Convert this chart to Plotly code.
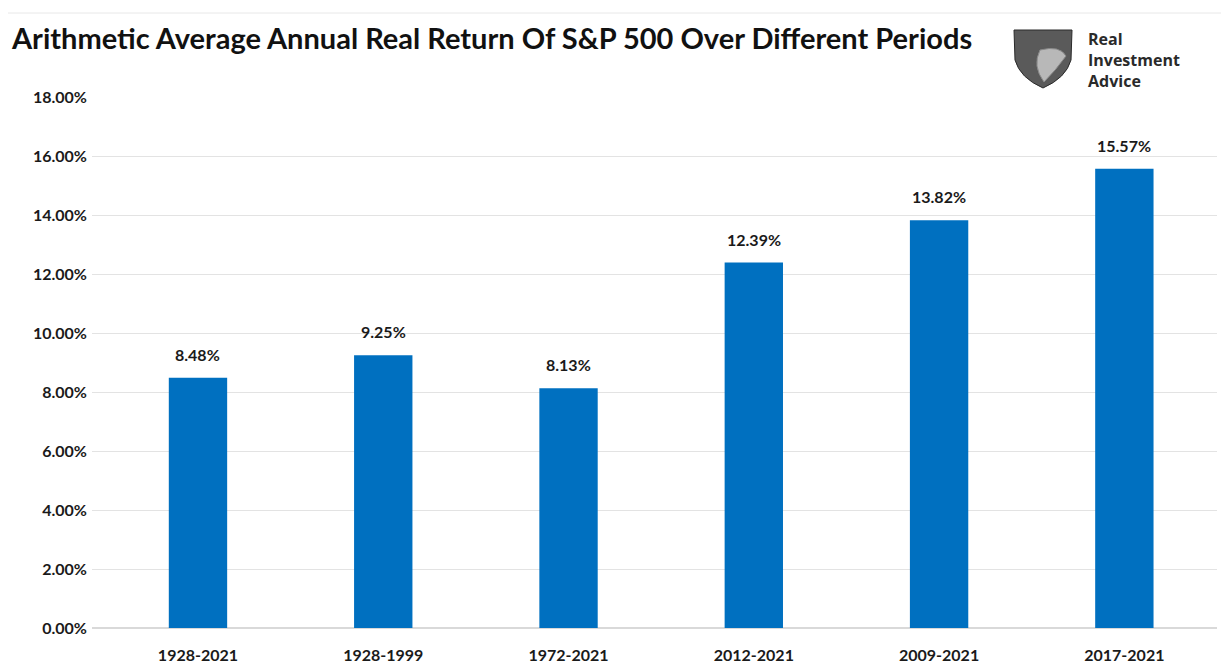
import plotly.graph_objects as go

periods = ["1928-2021", "1928-1999", "1972-2021", "2012-2021", "2009-2021", "2017-2021"]
returns = [8.48, 9.25, 8.13, 12.39, 13.82, 15.57]
y_ticks = [0, 2, 4, 6, 8, 10, 12, 14, 16, 18]
logo_lines = ["Real", "Investment", "Advice"]

OFF = 8  # page body margin
W, H = 1229 - OFF, 672 - OFF
L, R, T, B = 92 - OFF, 12, 97 - OFF, 44
pw = W - L - R
ph = H - T - B

def px(x):
    return (x - OFF - L) / pw

def py(y):
    return (H - B - (y - OFF)) / ph

FONT = "Lato, 'Open Sans', sans-serif"
xs = list(range(len(periods)))

fig = go.Figure(go.Bar(
    x=xs,
    y=returns,
    marker=dict(color="#0070C0", line=dict(width=0)),
    width=0.315,
))

annotations = [
    dict(x=x, y=v, xref="x", yref="y", text=f"{v:.2f}%", showarrow=False,
         yanchor="bottom", yshift=12,
         font=dict(family=FONT, size=16, color="#1a1a1a", weight="bold"))
    for x, v in zip(xs, returns)
]
annotations.append(
    dict(text="Arithmetic Average Annual Real Return Of S&P 500 Over Different Periods",
         xref="paper", yref="paper", x=px(9), y=py(38), xanchor="left", yanchor="middle",
         showarrow=False, font=dict(family=FONT, size=29, color="#111111", weight="bold")))
annotations.append(
    dict(text="<br>".join(logo_lines), xref="paper", yref="paper", x=px(1086), y=py(60),
         xanchor="left", yanchor="middle", showarrow=False, align="left",
         font=dict(family="'Open Sans', sans-serif", size=16, color="#2a2a2a", weight="bold")))

fig.update_layout(
    width=W, height=H,
    margin=dict(l=L, r=R, t=T, b=B),
    paper_bgcolor="white", plot_bgcolor="white",
    showlegend=False,
    font=dict(family=FONT, color="#1a1a1a"),
    xaxis=dict(
        tickmode="array", tickvals=xs, ticktext=periods, automargin=False,
        range=[-0.572, 5.5], showgrid=False, zeroline=False, showline=False,
        ticks="", ticklabelstandoff=16,
        tickfont=dict(family=FONT, size=16, color="#1a1a1a", weight="bold"),
    ),
    yaxis=dict(
        range=[0, 18], tickvals=y_ticks, ticktext=[f"{v:.2f}%" for v in y_ticks],
        automargin=False,
        showgrid=True, gridcolor="#e3e3e3", gridwidth=1, zeroline=True,
        zerolinecolor="#d9d9d9", showline=False, ticks="", ticklabelstandoff=4,
        tickfont=dict(family=FONT, size=16, color="#1a1a1a", weight="bold"),
    ),
    annotations=annotations,
    shapes=[
        dict(type="line", xref="paper", yref="paper", x0=px(8), x1=px(1229), y0=py(13), y1=py(13),
             line=dict(color="#e8e8e8", width=1), layer="below"),
        dict(type="path", xref="paper", yref="paper",
             path=(f"M {px(1014)},{py(30)} L {px(1072)},{py(30)} L {px(1071)},{py(60)} "
                   f"Q {px(1066)},{py(78)} {px(1043)},{py(88)} Q {px(1020)},{py(78)} {px(1015)},{py(60)} Z"),
             fillcolor="#5a5a5a", line=dict(color="#2a2a2a", width=1)),
        dict(type="path", xref="paper", yref="paper",
             path=(f"M {px(1040)},{py(50)} Q {px(1060)},{py(45)} {px(1066)},{py(56)} "
                   f"Q {px(1056)},{py(70)} {px(1044)},{py(82)} Q {px(1032)},{py(66)} {px(1040)},{py(50)} Z"),
             fillcolor="#b8b8b8", line=dict(color="#8a8a8a", width=1)),
    ],
)

fig.write_html("out.html")
